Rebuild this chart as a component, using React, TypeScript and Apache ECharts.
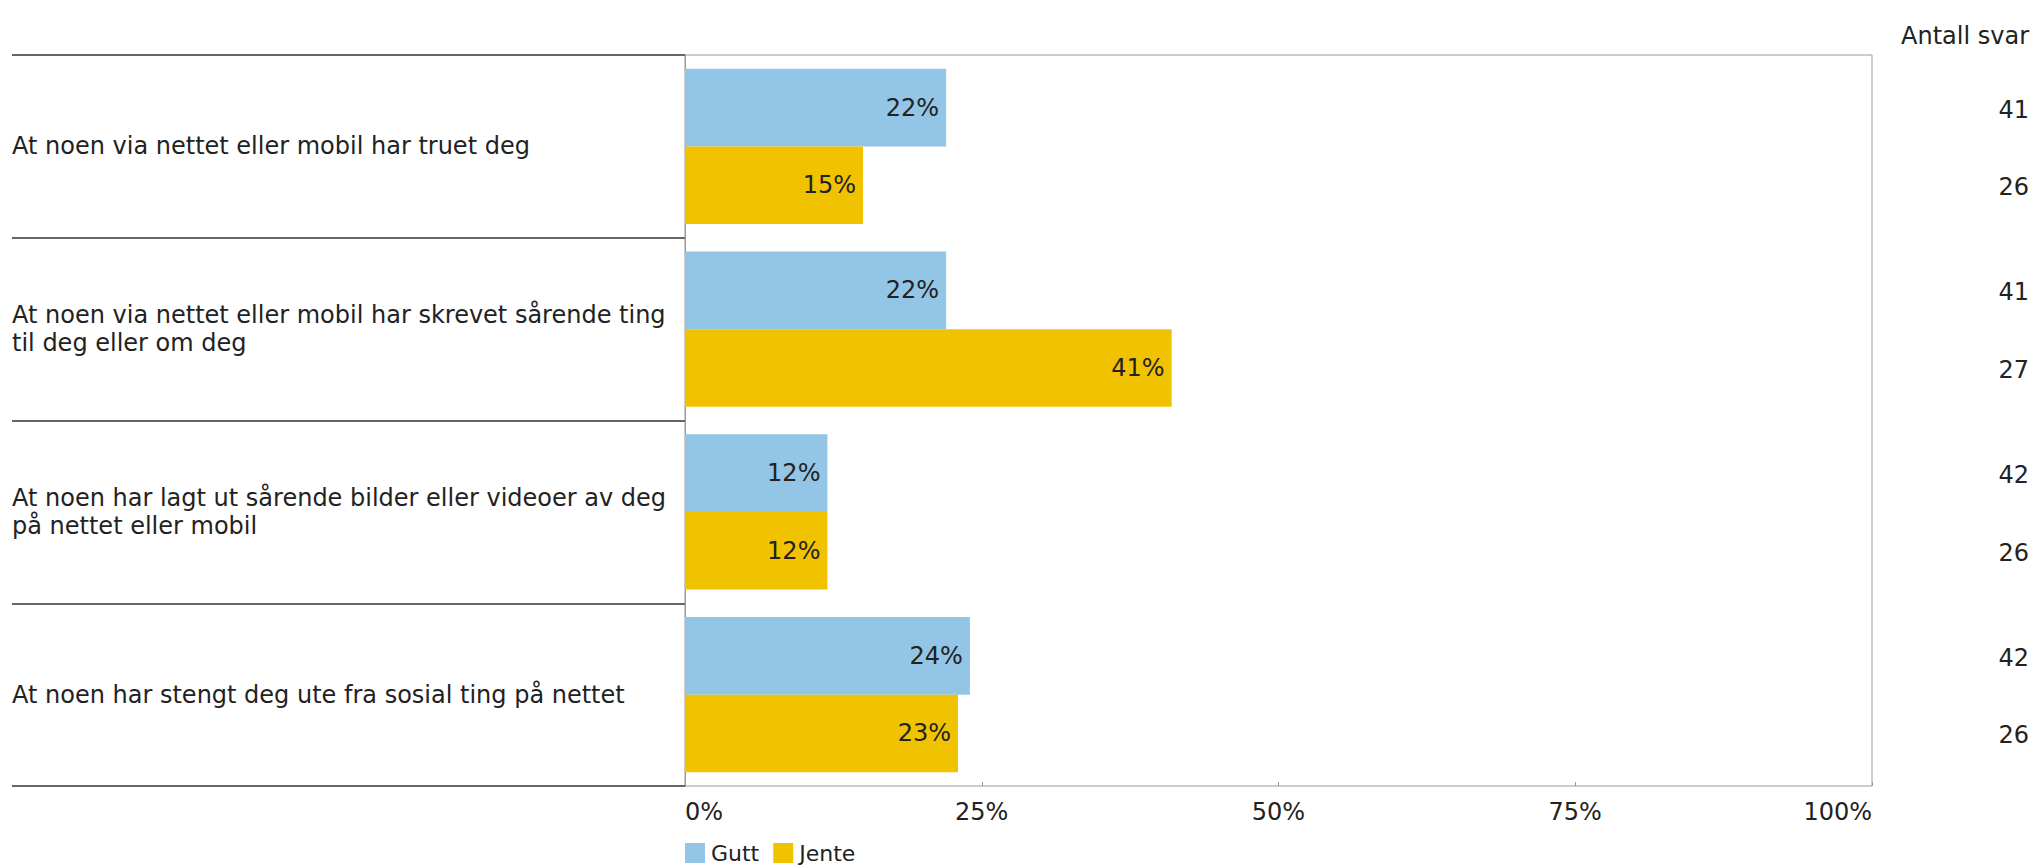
import React, { useEffect, useRef } from "react";
import * as echarts from "echarts";

const categories = [
  "At noen via nettet eller mobil har truet deg",
  "At noen via nettet eller mobil har skrevet sårende ting\ntil deg eller om deg",
  "At noen har lagt ut sårende bilder eller videoer av deg\npå nettet eller mobil",
  "At noen har stengt deg ute fra sosial ting på nettet",
];
const seriesNames = ["Gutt", "Jente"];
const guttValues = [22, 22, 12, 24];
const jenteValues = [15, 41, 12, 23];
const guttCounts = [41, 41, 42, 42];
const jenteCounts = [26, 27, 26, 26];
const countHeader = "Antall svar";

const FONT = "'DejaVu Sans', sans-serif";
const FS = 24;
const TEXT = "#222222";
const CAT_GAP = 0.15;

export default function App() {
  const ref = useRef<HTMLDivElement>(null);
  useEffect(() => {
    if (!ref.current) return;
    const chart = echarts.init(ref.current, undefined, { renderer: "svg" });
    const barLabel = {
      show: true,
      position: "insideRight",
      distance: 7,
      formatter: "{c}%",
      fontFamily: FONT,
      fontSize: FS,
      color: TEXT,
    };
    const option: any = {
      animation: false,
      backgroundColor: "#ffffff",
      textStyle: { fontFamily: FONT, color: TEXT },
      color: ["#93C5E7", "#F0C200"],
      grid: {
        left: 685,
        right: 161,
        top: 55,
        bottom: 82,
        show: true,
        borderColor: "#999999",
        borderWidth: 1,
        backgroundColor: "transparent",
      },
      legend: {
        data: seriesNames,
        left: 685,
        top: 841,
        itemWidth: 20,
        itemHeight: 20,
        itemGap: 14,
        icon: "rect",
        padding: 0,
        textStyle: {
          fontFamily: FONT,
          fontSize: 22,
          lineHeight: 24,
          color: TEXT,
          padding: [0, 0, 0, 1],
        },
      },
      xAxis: {
        type: "value",
        min: 0,
        max: 100,
        interval: 25,
        axisLine: { show: false },
        axisTick: { show: true, inside: true, length: 4, lineStyle: { color: "#999999" } },
        splitLine: { show: false },
        axisLabel: {
          formatter: "{value}%",
          fontFamily: FONT,
          fontSize: FS,
          color: TEXT,
          margin: 14,
          alignMinLabel: "left",
          alignMaxLabel: "right",
        },
      },
      yAxis: {
        type: "category",
        inverse: true,
        data: categories,
        axisLine: { show: true, lineStyle: { color: "#999999", width: 1 } },
        axisTick: {
          show: true,
          interval: 0,
          length: 673,
          lineStyle: { color: "#666666", width: 2 },
        },
        axisLabel: {
          interval: 0,
          align: "left",
          margin: 673,
          fontFamily: FONT,
          fontSize: FS,
          lineHeight: 28,
          color: TEXT,
        },
        splitLine: { show: false },
      },
      series: [
        {
          name: seriesNames[0],
          type: "bar",
          data: guttValues,
          barGap: "0%",
          barCategoryGap: CAT_GAP * 100 + "%",
          label: barLabel,
        },
        {
          name: seriesNames[1],
          type: "bar",
          data: jenteValues,
          barGap: "0%",
          barCategoryGap: CAT_GAP * 100 + "%",
          label: barLabel,
        },
      ],
    };
    chart.setOption(option);

    const c0 = chart.convertToPixel({ yAxisIndex: 0 }, 0) as number;
    const c1 = chart.convertToPixel({ yAxisIndex: 0 }, 1) as number;
    const band = c1 - c0;
    const off = (band * (1 - CAT_GAP)) / 4;
    const countX = 2029;
    const texts: any[] = [
      {
        type: "text",
        x: countX,
        y: 36,
        style: {
          text: countHeader,
          fontFamily: FONT,
          fontSize: FS,
          fill: TEXT,
          align: "right",
          verticalAlign: "middle",
        },
      },
    ];
    categories.forEach((_, i) => {
      const c = chart.convertToPixel({ yAxisIndex: 0 }, i) as number;
      [
        [guttCounts[i], c - off],
        [jenteCounts[i], c + off],
      ].forEach(([v, y]) => {
        texts.push({
          type: "text",
          x: countX,
          y: (y as number) + 2,
          style: {
            text: String(v),
            fontFamily: FONT,
            fontSize: FS,
            fill: TEXT,
            align: "right",
            verticalAlign: "middle",
          },
        });
      });
    });
    chart.setOption({ graphic: texts });

    return () => chart.dispose();
  }, []);
  return (
    <div
      ref={ref}
      style={{ position: "absolute", left: 0, top: 0, width: 2033, height: 868 }}
    />
  );
}
